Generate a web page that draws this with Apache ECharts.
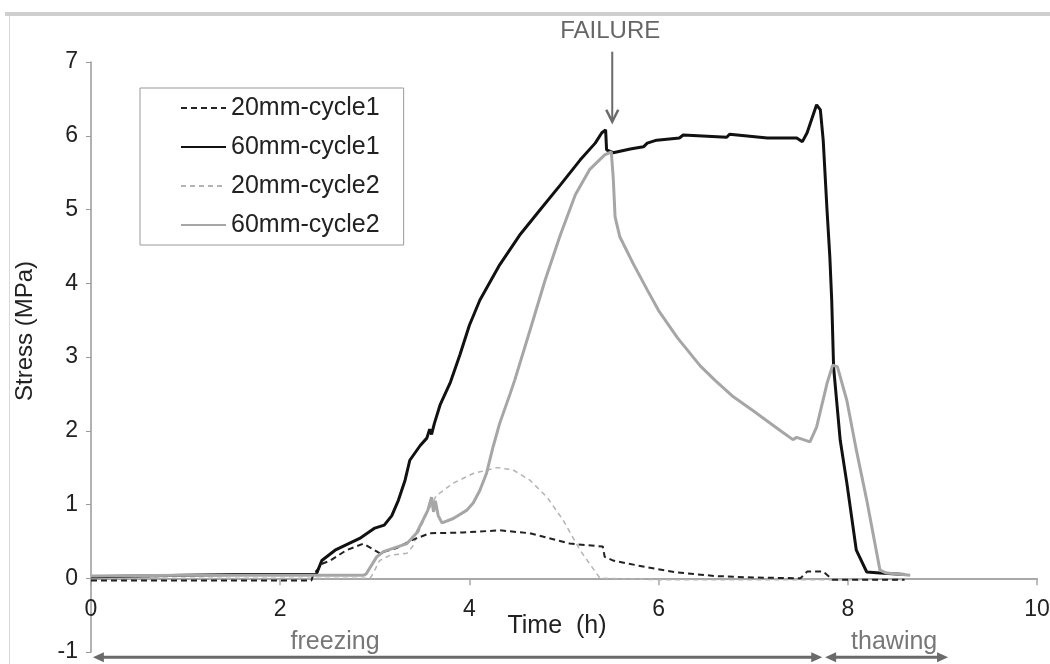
<!DOCTYPE html>
<html>
<head>
<meta charset="utf-8">
<script src="https://cdn.jsdelivr.net/npm/echarts@6/dist/echarts.min.js"></script>
<style>
html,body{margin:0;padding:0;background:#fff;}
#chart{width:1050px;height:664px;}
</style>
</head>
<body>
<div id="chart"></div>
<script>
// ---- data (time in h, stress in MPa) ----
const seriesNames = ['20mm-cycle1', '60mm-cycle1', '20mm-cycle2', '60mm-cycle2'];

const t20c1 = [0, 1, 2, 2.33, 2.35, 2.45, 2.53, 2.70, 2.88, 3.05, 3.23, 3.40, 3.58, 3.93, 4.32, 4.64, 5.06, 5.41, 5.43, 5.52, 5.87, 6.19, 6.6, 7.0, 7.5, 7.57, 7.74, 7.84, 8.6];
const s20c1 = [-0.03, -0.03, -0.03, -0.03, 0.05, 0.2, 0.24, 0.38, 0.47, 0.34, 0.41, 0.52, 0.61, 0.62, 0.65, 0.61, 0.47, 0.43, 0.29, 0.24, 0.15, 0.08, 0.03, 0.01, 0.0, 0.09, 0.09, -0.02, -0.02];

const t60c1 = [0, 0.5, 1.0, 1.5, 2.0, 2.3, 2.38, 2.44, 2.58, 2.84, 3.0, 3.1, 3.18, 3.25, 3.32, 3.37, 3.48, 3.55, 3.58, 3.60, 3.63, 3.69, 3.8, 3.9, 4.0, 4.11, 4.32, 4.53, 4.75, 4.96, 5.17, 5.33, 5.40, 5.44, 5.45, 5.52, 5.70, 5.84, 5.88, 5.98, 6.22, 6.26, 6.72, 6.75, 7.15, 7.46, 7.52, 7.57, 7.67, 7.71, 7.74, 7.78, 7.81, 7.83, 7.85, 7.92, 7.99, 8.09, 8.2, 8.34, 8.6];
const s60c1 = [0.02, 0.03, 0.04, 0.05, 0.05, 0.05, 0.05, 0.24, 0.38, 0.54, 0.68, 0.72, 0.85, 1.06, 1.33, 1.6, 1.8, 1.9, 2.02, 1.95, 2.1, 2.35, 2.66, 3.03, 3.43, 3.77, 4.25, 4.65, 5.0, 5.33, 5.67, 5.9, 6.04, 6.08, 5.81, 5.77, 5.82, 5.85, 5.90, 5.94, 5.97, 6.01, 5.98, 6.02, 5.97, 5.97, 5.92, 6.04, 6.42, 6.35, 5.94, 5.0, 4.36, 3.77, 2.86, 1.87, 1.29, 0.38, 0.085, 0.07, 0.05];

const t20c2 = [0, 1, 2, 2.95, 2.98, 3.05, 3.16, 3.34, 3.40, 3.44, 3.55, 3.65, 3.83, 4.04, 4.29, 4.46, 4.64, 4.82, 4.99, 5.17, 5.38, 6, 7, 8, 8.6];
const s20c2 = [0.0, 0.0, 0.0, 0.0, 0.06, 0.24, 0.31, 0.34, 0.43, 0.56, 0.88, 1.12, 1.29, 1.42, 1.5, 1.47, 1.33, 1.1, 0.79, 0.38, 0.0, -0.02, -0.02, -0.02, -0.02];

const t60c2 = [0, 1.0, 2.0, 2.88, 2.91, 3.02, 3.09, 3.34, 3.44, 3.51, 3.56, 3.60, 3.62, 3.64, 3.67, 3.71, 3.83, 3.97, 4.04, 4.11, 4.18, 4.25, 4.32, 4.43, 4.48, 4.64, 4.8, 4.96, 5.12, 5.27, 5.43, 5.50, 5.52, 5.54, 5.59, 5.73, 5.88, 6.0, 6.2, 6.44, 6.6, 6.79, 7.0, 7.14, 7.3, 7.42, 7.46, 7.60, 7.67, 7.78, 7.84, 7.89, 7.99, 8.09, 8.20, 8.34, 8.41, 8.66];
const s60c2 = [0.03, 0.04, 0.04, 0.04, 0.06, 0.29, 0.36, 0.47, 0.61, 0.79, 0.92, 1.1, 0.9, 1.05, 0.85, 0.75, 0.81, 0.92, 1.02, 1.19, 1.42, 1.78, 2.10, 2.5, 2.69, 3.36, 4.04, 4.65, 5.2, 5.54, 5.74, 5.78, 5.44, 4.9, 4.63, 4.27, 3.91, 3.63, 3.26, 2.88, 2.68, 2.46, 2.27, 2.14, 1.99, 1.88, 1.91, 1.85, 2.05, 2.64, 2.89, 2.87, 2.41, 1.74, 1.06, 0.11, 0.07, 0.04];

const xTicks = [0, 2, 4, 6, 8, 10];
const yTicks = [-1, 0, 1, 2, 3, 4, 5, 6, 7];
const yMin = -1, yMax = 7;

// annotations (data coordinates)
const failureAt = { t: 5.51, top: 7.14, bottom: 6.19, label: 'FAILURE', labelY: 7.42 };
const phases = [
  { label: 'freezing', from: 0.02, to: 7.73, labelT: 2.58 },
  { label: 'thawing', from: 7.76, to: 9.06, labelT: 8.49 }
];
const phaseArrowY = -1.07;
const phaseLabelY = -0.87;

// ---- chart ----
const FONT = '"Liberation Sans", Arial, Helvetica, sans-serif';
const zip = (a, b) => a.map((v, i) => [v, b[i]]);
const GRID = { left: 91, right: 13, top: 62, bottom: 12 };
const plotH = 664 - GRID.top - GRID.bottom;
// the time axis sits on stress = 0: shift it up from the grid bottom by that amount
const xAxisOffset = -((0 - yMin) / (yMax - yMin)) * plotH;

const chart = echarts.init(document.getElementById('chart'), null, { renderer: 'canvas' });

const option = {
  backgroundColor: '#ffffff',
  animation: false,
  textStyle: { fontFamily: FONT },
  grid: Object.assign({ containLabel: false, outerBoundsMode: 'none' }, GRID),
  legend: {
    orient: 'vertical',
    left: 140, top: 88,
    padding: [7, 24, 7, 40],
    itemGap: 13,
    itemWidth: 45, itemHeight: 14,
    borderColor: '#999', borderWidth: 1,
    itemStyle: { opacity: 0 },
    textStyle: { fontSize: 25, color: '#222', fontFamily: FONT, lineHeight: 26 },
    data: seriesNames
  },
  xAxis: {
    type: 'value',
    min: 0, max: 10, interval: 2,
    offset: xAxisOffset,
    name: 'Time  (h)',
    nameLocation: 'middle',
    nameGap: 35,
    nameMoveOverlap: false,
    nameTextStyle: { fontSize: 25, color: '#222', fontFamily: FONT, padding: [0, 14, 0, 0] },
    axisLine: { onZero: false, lineStyle: { color: '#a8a8a8', width: 2 } },
    axisTick: { show: true, length: 7, lineStyle: { color: '#a8a8a8', width: 1.5 } },
    axisLabel: { fontSize: 23, color: '#222', margin: 20, fontFamily: FONT,
      formatter: v => (xTicks.indexOf(v) >= 0 ? String(v) : '') },
    splitLine: { show: false }
  },
  yAxis: {
    type: 'value',
    min: yMin, max: yMax, interval: 1,
    name: 'Stress (MPa)',
    nameLocation: 'middle',
    nameGap: 54,
    nameMoveOverlap: false,
    nameTextStyle: { fontSize: 24, color: '#222', fontFamily: FONT, padding: [0, 0, 0, 52] },
    axisLine: { show: true, lineStyle: { color: '#9a9a9a', width: 1.5 } },
    axisTick: { show: true, length: 5, lineStyle: { color: '#9a9a9a', width: 1 } },
    axisLabel: { fontSize: 23, color: '#222', margin: 13, fontFamily: FONT,
      formatter: v => (yTicks.indexOf(v) >= 0 ? String(v) : '') },
    splitLine: { show: false }
  },
  series: [
    {
      name: seriesNames[0], type: 'line', showSymbol: false, symbol: 'none', z: 3,
      data: zip(t20c1, s20c1),
      lineStyle: { color: '#222', width: 2, type: [6, 4] },
      itemStyle: { color: '#222' }
    },
    {
      name: seriesNames[1], type: 'line', showSymbol: false, symbol: 'none', z: 4,
      data: zip(t60c1, s60c1),
      lineStyle: { color: '#111', width: 3 },
      itemStyle: { color: '#111' }
    },
    {
      name: seriesNames[2], type: 'line', showSymbol: false, symbol: 'none', z: 2,
      data: zip(t20c2, s20c2),
      lineStyle: { color: '#b3b3b3', width: 1.5, type: [5, 4] },
      itemStyle: { color: '#b3b3b3' }
    },
    {
      name: seriesNames[3], type: 'line', showSymbol: false, symbol: 'none', z: 5,
      data: zip(t60c2, s60c2),
      lineStyle: { color: '#a6a6a6', width: 3 },
      itemStyle: { color: '#a6a6a6' }
    }
  ]
};

chart.setOption(option);

// annotations positioned through the chart's own scales
const px = (t, v) => chart.convertToPixel({ gridIndex: 0 }, [t, v]);
const graphics = [];

// image frame (top band and left rule)
graphics.push({ type: 'rect', shape: { x: 5, y: 12, width: 1045, height: 4 }, style: { fill: '#cfcfcf' }, z: 1 });
graphics.push({ type: 'rect', shape: { x: 9, y: 16, width: 1, height: 648 }, style: { fill: '#d8d8d8' }, z: 1 });

// FAILURE arrow
const fTop = px(failureAt.t, failureAt.top);
const fBot = px(failureAt.t, failureAt.bottom);
const fLab = px(failureAt.t, failureAt.labelY);
graphics.push({ type: 'text', x: fLab[0] - 2, y: fLab[1], style: { text: failureAt.label, font: '24px ' + FONT, fill: '#666', align: 'center', verticalAlign: 'middle' }, z: 10 });
graphics.push({ type: 'line', shape: { x1: fTop[0], y1: fTop[1], x2: fBot[0], y2: fBot[1] - 1 }, style: { stroke: '#6a6a6a', lineWidth: 2 }, z: 10 });
graphics.push({ type: 'polyline', shape: { points: [[fBot[0] - 6, fBot[1] - 12], [fBot[0], fBot[1]], [fBot[0] + 6, fBot[1] - 12]] }, style: { stroke: '#6a6a6a', lineWidth: 2.5, fill: null }, z: 10 });

// phase arrows
phases.forEach(p => {
  const a = px(p.from, phaseArrowY);
  const b = px(p.to, phaseArrowY);
  const l = px(p.labelT, phaseLabelY);
  const h = 11, w = 5;
  graphics.push({ type: 'line', shape: { x1: a[0] + h - 2, y1: a[1], x2: b[0] - h + 2, y2: b[1] }, style: { stroke: '#6a6a6a', lineWidth: 3 }, z: 10 });
  graphics.push({ type: 'polygon', shape: { points: [[a[0], a[1]], [a[0] + h, a[1] - w], [a[0] + h, a[1] + w]] }, style: { fill: '#6a6a6a' }, z: 10 });
  graphics.push({ type: 'polygon', shape: { points: [[b[0], b[1]], [b[0] - h, b[1] - w], [b[0] - h, b[1] + w]] }, style: { fill: '#6a6a6a' }, z: 10 });
  graphics.push({ type: 'text', x: l[0], y: l[1], style: { text: p.label, font: '25px ' + FONT, fill: '#777', align: 'center', verticalAlign: 'middle' }, z: 10 });
});

chart.setOption({ graphic: graphics });
</script>
</body>
</html>
